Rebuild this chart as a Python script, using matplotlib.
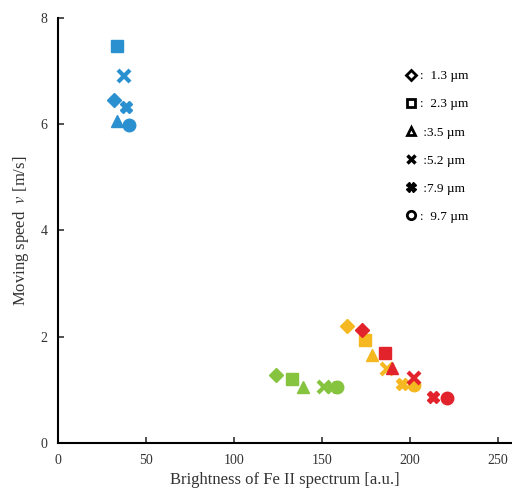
import matplotlib
matplotlib.use("Agg")
import matplotlib.pyplot as plt
from matplotlib.lines import Line2D

plt.rcParams["font.family"] = ["Liberation Serif", "DejaVu Serif"]
plt.rcParams["mathtext.fontset"] = "stix"

sizes = ["1.3", "2.3", "3.5", "5.2", "7.9", "9.7"]
markers = ["D", "s", "^", "x", "X", "o"]

# brightness / speed per particle size, one group per colour
blue_x = [31.5, 33.3, 33.3, 37.3, 38.4, 40.2]
blue_y = [6.46, 7.48, 6.05, 6.9, 6.33, 5.98]
green_x = [124, 133, 139.3, 151, 155, 158.5]
green_y = [1.27, 1.2, 1.05, 1.05, 1.05, 1.06]
yellow_x = [164, 174.6, 178.5, 187, 195.6, 202]
yellow_y = [2.2, 1.93, 1.66, 1.39, 1.1, 1.08]
red_x = [172.6, 186, 190, 202, 213, 221]
red_y = [2.12, 1.69, 1.41, 1.22, 0.87, 0.85]

groups = [
    (blue_x, blue_y, "#2b90d0"),
    (green_x, green_y, "#86c440"),
    (yellow_x, yellow_y, "#f5b820"),
    (red_x, red_y, "#e2232c"),
]

fig = plt.figure(figsize=(5.12, 4.97), dpi=100)
ax = fig.add_axes([0.114, 0.109, 0.886, 0.855])

for xs, ys, color in groups:
    for x, y, m in zip(xs, ys, markers):
        if m == "x":
            ax.plot(x, y, marker=m, color=color, markersize=8.5, mew=3, linestyle="none")
        else:
            ax.plot(x, y, marker=m, color=color, markersize=9 if m != "D" else 7.5,
                    mec=color, linestyle="none")

handles = []
for m in markers:
    if m == "x":
        h = Line2D([], [], marker=m, color="black", markersize=6, mew=2.5, linestyle="none")
    elif m == "X":
        h = Line2D([], [], marker=m, color="black", markersize=7, linestyle="none")
    else:
        h = Line2D([], [], marker=m, color="black", mfc="white", mec="black",
                   markersize=6 if m != "D" else 5, mew=2, linestyle="none")
    handles.append(h)
labels = [":  1.3 \u00b5m", ":  2.3 \u00b5m", " :3.5 \u00b5m",
          " :5.2 \u00b5m", " :7.9 \u00b5m", ":  9.7 \u00b5m"]
ax.legend(handles, labels, loc="upper right", bbox_to_anchor=(0.93, 0.905),
          frameon=False, fontsize=9.5, handlelength=0.8, handletextpad=0.3,
          labelspacing=1.2)

ax.set_xlim(0, 258)
ax.set_ylim(0, 8)
ax.set_xticks([0, 50, 100, 150, 200, 250])
ax.set_yticks([0, 2, 4, 6, 8])
ax.spines["top"].set_visible(False)
ax.spines["right"].set_visible(False)
ax.spines["left"].set_linewidth(1.5)
ax.spines["bottom"].set_linewidth(1.5)
ax.tick_params(direction="in", length=4, width=1.2, labelsize=10, pad=8,
               colors="#333333")
ax.set_xlabel("Brightness of Fe II spectrum [a.u.]", fontsize=12, color="#333333")
ax.set_ylabel("Moving speed  $\\it{v}$ [m/s]", fontsize=12, color="#333333",
              labelpad=7)

fig.savefig("out.png", dpi=100)
